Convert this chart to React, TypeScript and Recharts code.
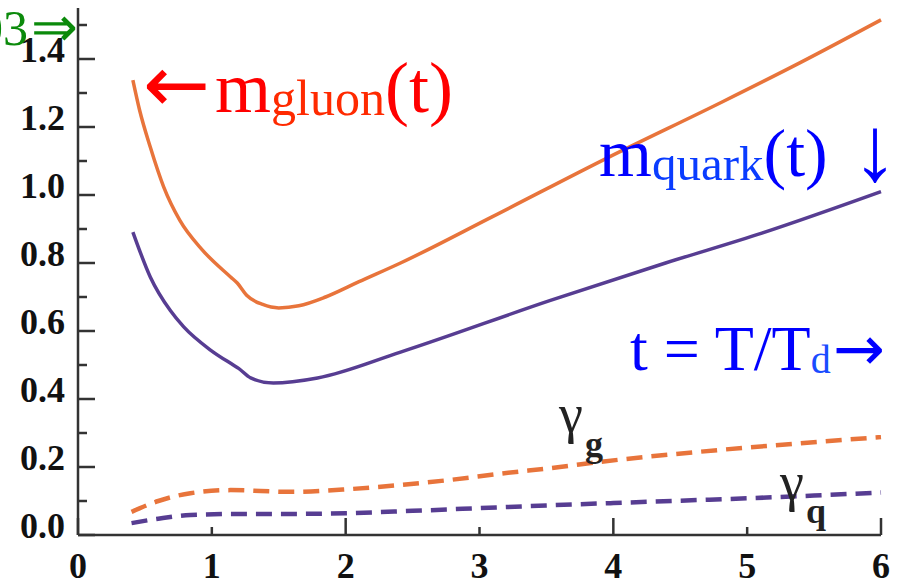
import React from 'react';
import { LineChart, Line, XAxis, YAxis } from 'recharts';

// values (t = T/Td on x)
const gluonT = [0.41, 0.46, 0.54, 0.64, 0.76, 0.93, 1.14, 1.19, 1.26, 1.38, 1.5, 1.65, 1.85, 2.1, 2.41, 3.09, 3.96, 4.82, 5.4, 6.0];
const gluonMass = [1.338, 1.25, 1.141, 1.024, 0.926, 0.838, 0.759, 0.741, 0.705, 0.678, 0.668, 0.674, 0.7, 0.745, 0.8, 0.935, 1.11, 1.275, 1.39, 1.515];

const quarkT = [0.41, 0.54, 0.69, 0.79, 0.99, 1.16, 1.2, 1.29, 1.46, 1.79, 2.41, 3.53, 4.39, 5.11, 6.0];
const quarkMass = [0.891, 0.759, 0.66, 0.612, 0.544, 0.5, 0.49, 0.462, 0.447, 0.462, 0.538, 0.69, 0.8, 0.888, 1.01];

const gammaGT = [0.4, 0.6, 0.84, 1.14, 1.59, 2.03, 2.41, 2.78, 3.15, 3.6, 3.9, 4.65, 5.4, 6.0];
const gammaG = [0.068, 0.1, 0.123, 0.132, 0.127, 0.135, 0.147, 0.162, 0.18, 0.2, 0.215, 0.245, 0.27, 0.288];

const gammaQT = [0.4, 0.6, 0.84, 1.2, 1.57, 2.0, 2.5, 3.0, 3.5, 4.0, 4.5, 5.0, 5.5, 6.0];
const gammaQ = [0.035, 0.048, 0.059, 0.062, 0.062, 0.064, 0.071, 0.079, 0.087, 0.094, 0.101, 0.108, 0.116, 0.125];

const xTicks = [0, 1, 2, 3, 4, 5, 6];
const yTicks = [0, 0.1, 0.2, 0.3, 0.4, 0.5, 0.6, 0.7, 0.8, 0.9, 1.0, 1.1, 1.2, 1.3, 1.4, 1.5];
const yLabels: Record<string, string> = {
  '0': '0.0', '0.2': '0.2', '0.4': '0.4', '0.6': '0.6',
  '0.8': '0.8', '1': '1.0', '1.2': '1.2', '1.4': '1.4',
};

const toPoints = (ts: number[], vs: number[]) => ts.map((t, i) => ({ t, v: vs[i] }));

const AXIS = '#333';
const ORANGE = '#e8743b';
const PURPLE = '#573d92';
const SERIF = '"Liberation Serif", "Times New Roman", serif';
const ARROWS = '"DejaVu Sans", sans-serif';

const LeftTick = (props: any) => {
  const { x, y, payload } = props;
  const label = yLabels[String(payload.value)];
  return (
    <g>
      <line x1={x} x2={x + (label ? 17 : 9)} y1={y} y2={y} stroke={AXIS} strokeWidth={2.5} />
      {label && (
        <text x={x - 13} y={y - 9} textAnchor="end" dominantBaseline="central"
          fontFamily={SERIF} fontWeight="bold" fontSize={36} fill="#111">
          {label}
        </text>
      )}
    </g>
  );
};

const RightTick = (props: any) => {
  const { x, y } = props;
  return <line x1={x} x2={x - 15} y1={y} y2={y} stroke={AXIS} strokeWidth={2.5} />;
};

const BottomTick = (props: any) => {
  const { x, y, payload } = props;
  const len = payload.value % 2 === 0 ? 17 : 8;
  return (
    <g>
      <line x1={x} x2={x} y1={y} y2={y - len} stroke={AXIS} strokeWidth={2.5} />
      <text x={x} y={y + 31} textAnchor="middle" dominantBaseline="central"
        fontFamily={SERIF} fontWeight="bold" fontSize={36} fill="#111">
        {payload.value}
      </text>
    </g>
  );
};

const TopTick = (props: any) => {
  const { x, y, payload } = props;
  const len = payload.value % 2 === 0 ? 17 : 8;
  return <line x1={x} x2={x} y1={y} y2={y + len} stroke={AXIS} strokeWidth={2.5} />;
};

export default function App() {
  return (
    <div style={{ position: 'absolute', left: 0, top: 0, width: 898, height: 584, background: '#fff', overflow: 'hidden' }}>
      <LineChart width={898} height={584} margin={{ top: 8, right: 17, bottom: 0, left: 0 }}>
        <XAxis xAxisId="b" dataKey="t" type="number" domain={[0, 6]} ticks={xTicks}
          height={49} tickSize={0} tickMargin={0} tickLine={false}
          axisLine={{ stroke: AXIS, strokeWidth: 2.5 }} tick={<BottomTick />} interval={0} />
        <XAxis xAxisId="top" orientation="top" type="number" domain={[0, 6]} ticks={xTicks}
          height={0} tickSize={0} tickMargin={0} tickLine={false}
          axisLine={{ stroke: AXIS, strokeWidth: 2.5 }} tick={<TopTick />} interval={0} />
        <YAxis yAxisId="l" type="number" domain={[0, 1.55]} ticks={yTicks} width={78}
          tickSize={0} tickMargin={0} tickLine={false} interval={0}
          axisLine={{ stroke: AXIS, strokeWidth: 2.5 }} tick={<LeftTick />} />
        <YAxis yAxisId="r" orientation="right" type="number" domain={[0, 1.55]} ticks={yTicks} width={0}
          tickSize={0} tickMargin={0} tickLine={false} interval={0}
          axisLine={{ stroke: AXIS, strokeWidth: 2.5 }} tick={<RightTick />} />

        <Line xAxisId="b" yAxisId="l" data={toPoints(gluonT, gluonMass)} dataKey="v" type="monotone"
          stroke={ORANGE} strokeWidth={3.5} dot={false} isAnimationActive={false} />
        <Line xAxisId="b" yAxisId="l" data={toPoints(quarkT, quarkMass)} dataKey="v" type="monotone"
          stroke={PURPLE} strokeWidth={3.5} dot={false} isAnimationActive={false} />
        <Line xAxisId="b" yAxisId="l" data={toPoints(gammaGT, gammaG)} dataKey="v" type="monotone"
          stroke={ORANGE} strokeWidth={4.5} strokeDasharray="16 9" dot={false} isAnimationActive={false} />
        <Line xAxisId="b" yAxisId="l" data={toPoints(gammaQT, gammaQ)} dataKey="v" type="monotone"
          stroke={PURPLE} strokeWidth={4.5} strokeDasharray="16 9" dot={false} isAnimationActive={false} />
      </LineChart>

      <svg width={898} height={584} style={{ position: 'absolute', left: 0, top: 0, pointerEvents: 'none' }}
        fontFamily={SERIF}>
        <text x={28} y={45} textAnchor="end" fontSize={50} fill="#0b8a0b">03</text>
        <text x={31} y={27} dominantBaseline="central" fontSize={56} fill="#0b8a0b">⇒</text>

        <text x={143} y={84} dominantBaseline="central" fontFamily={ARROWS} fontSize={80} fill="#ff0000">←</text>
        <text x={215} y={112} fontSize={72} fill="#ff0000">
          m<tspan fontSize={50} dy={3} fill="#ff2a00">gluon</tspan><tspan dy={-3}>(t)</tspan>
        </text>

        <text x={599} y={176} fontSize={68} fill="#0000ff">
          m<tspan fontSize={49} dy={4} fill="#0a3cff">quark</tspan><tspan dy={-4}>(t)</tspan>
        </text>
        <text x={875} y={180} textAnchor="middle" fontSize={92} fontWeight="bold" fill="#0000ff">↓</text>

        <text x={630} y={370} fontSize={64} fill="#0000ff">
          t = T/T<tspan fontSize={40} dy={3} fill="#1a4cff">d</tspan>
        </text>
        <text x={833} y={348} dominantBaseline="central" fontFamily={ARROWS} fontSize={62} fill="#0000ff">→</text>

        <text x={559} y={432} fontSize={54} fill="#222">γ</text>
        <text x={585} y={456} fontSize={36} fontWeight="bold" fill="#222">g</text>
        <text x={780} y={500} fontSize={54} fill="#222">γ</text>
        <text x={806} y={523} fontSize={36} fontWeight="bold" fill="#222">q</text>
      </svg>
    </div>
  );
}
